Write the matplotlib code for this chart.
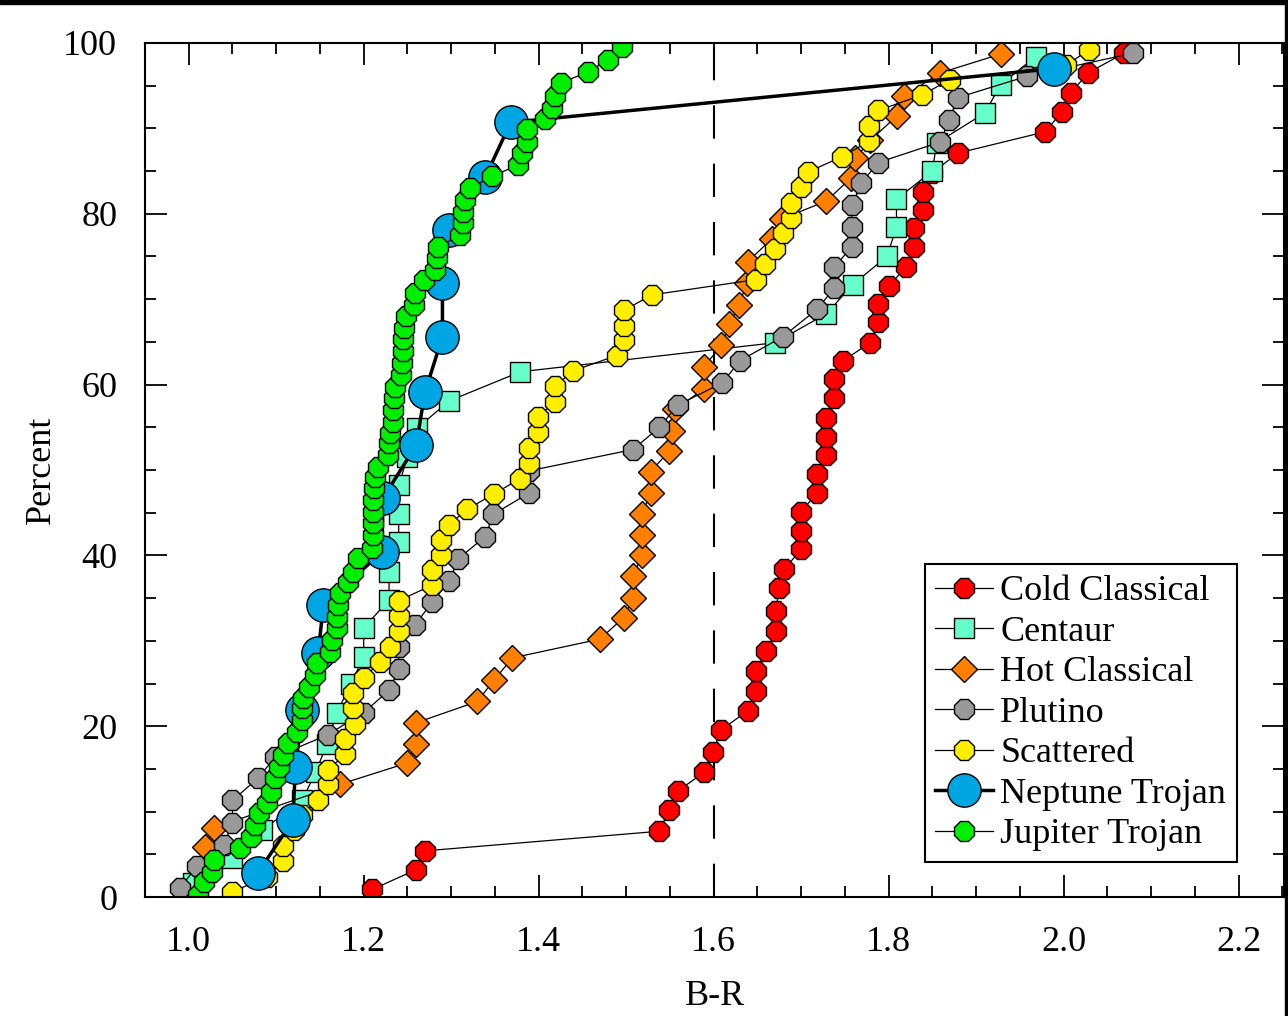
import numpy as np
import matplotlib.pyplot as plt
from matplotlib.patches import Rectangle

plt.rcParams['font.family'] = ['Liberation Serif', 'DejaVu Serif']

# Cold Classical
cc_x = [1.210, 1.260, 1.270, 1.538, 1.549, 1.559, 1.589, 1.599, 1.609, 1.639,
        1.649, 1.649, 1.660, 1.671, 1.671, 1.675, 1.681, 1.700, 1.700, 1.700,
        1.718, 1.718, 1.728, 1.728, 1.728, 1.738, 1.738, 1.748, 1.779, 1.788,
        1.788, 1.800, 1.820, 1.829, 1.829, 1.839, 1.839, 1.850, 1.879, 1.979,
        1.998, 2.008, 2.028, 2.069]
cc_y = [0.9, 3.2, 5.4, 7.7, 10.2, 12.4, 14.6, 17.0, 19.6, 21.8,
        24.1, 26.5, 28.8, 31.1, 33.5, 36.2, 38.4, 40.7, 42.9, 45.1,
        47.3, 49.5, 51.8, 53.9, 56.1, 58.4, 60.7, 62.8, 64.9, 67.3,
        69.4, 71.5, 73.8, 76.1, 78.3, 80.4, 82.6, 84.8, 87.1, 89.6,
        91.9, 94.1, 96.5, 98.8]

# Centaur
ce_x = [1.005, 1.050, 1.084, 1.130, 1.145, 1.158, 1.169, 1.185, 1.200, 1.200,
        1.229, 1.229, 1.240, 1.240, 1.240, 1.250, 1.261, 1.298, 1.379, 1.670,
        1.729, 1.759, 1.798, 1.809, 1.809, 1.850, 1.855, 1.910, 1.928, 1.968]
ce_y = [1.6, 4.6, 7.8, 11.4, 14.6, 17.9, 21.5, 24.9, 28.1, 31.5,
        34.8, 38.1, 41.6, 44.8, 48.2, 51.5, 54.9, 58.1, 61.5, 64.9,
        68.3, 71.7, 75.0, 78.4, 81.7, 85.0, 88.3, 91.8, 95.1, 98.4]

# Hot Classical
hc_x = [1.019, 1.029, 1.173, 1.250, 1.260, 1.260, 1.330, 1.349, 1.370, 1.470,
        1.497, 1.508, 1.508, 1.518, 1.518, 1.518, 1.528, 1.528, 1.549, 1.552,
        1.556, 1.589, 1.589, 1.609, 1.618, 1.629, 1.638, 1.639, 1.667, 1.678,
        1.729, 1.757, 1.762, 1.779, 1.810, 1.818, 1.859, 1.928]
hc_y = [5.8, 8.1, 13.2, 15.7, 17.9, 20.4, 22.9, 25.4, 28.0, 30.2,
        32.7, 35.0, 37.6, 40.0, 42.4, 44.8, 47.3, 49.8, 52.2, 54.6,
        57.1, 59.5, 62.1, 64.6, 67.1, 69.3, 71.9, 74.4, 77.1, 79.4,
        81.5, 84.2, 86.5, 88.6, 91.5, 93.8, 96.5, 98.7]

# Plutino
pl_x = [0.990, 1.009, 1.040, 1.050, 1.050, 1.079, 1.099, 1.159, 1.200, 1.229,
        1.240, 1.240, 1.259, 1.278, 1.298, 1.308, 1.339, 1.348, 1.389, 1.389,
        1.508, 1.538, 1.559, 1.610, 1.630, 1.679, 1.718, 1.738, 1.738, 1.758,
        1.758, 1.758, 1.769, 1.788, 1.859, 1.869, 1.879, 1.958, 2.079]
pl_y = [1.0, 3.6, 6.1, 8.7, 11.3, 13.9, 16.4, 19.0, 21.6, 24.2,
        26.7, 29.3, 31.9, 34.5, 37.0, 39.6, 42.2, 44.8, 47.3, 49.9,
        52.4, 55.0, 57.6, 60.2, 62.8, 65.6, 68.8, 71.3, 73.8, 76.1,
        78.5, 81.0, 83.6, 86.0, 88.4, 91.0, 93.6, 96.1, 98.8]

# Scattered
sc_x = [1.050, 1.090, 1.108, 1.108, 1.120, 1.130, 1.148, 1.159, 1.159, 1.179,
        1.179, 1.190, 1.188, 1.188, 1.200, 1.219, 1.230, 1.240, 1.240, 1.240,
        1.278, 1.278, 1.288, 1.288, 1.298, 1.318, 1.349, 1.379, 1.389, 1.389,
        1.399, 1.399, 1.419, 1.419, 1.439, 1.489, 1.498, 1.498, 1.498, 1.529,
        1.649, 1.659, 1.670, 1.679, 1.689, 1.689, 1.700, 1.708, 1.747, 1.778,
        1.778, 1.788, 1.838, 1.870, 2.003, 2.029]
sc_y = [0.6, 2.4, 4.2, 6.0, 7.8, 9.6, 11.4, 13.2, 14.9, 16.7,
        18.5, 20.3, 22.1, 23.9, 25.7, 27.5, 29.3, 31.1, 32.9, 34.7,
        36.5, 38.3, 40.0, 41.8, 43.6, 45.4, 47.2, 49.0, 50.8, 52.6,
        54.4, 56.2, 58.0, 59.8, 61.6, 63.4, 65.2, 66.9, 68.7, 70.5,
        72.3, 74.1, 75.9, 77.7, 79.5, 81.3, 83.1, 84.9, 86.7, 88.5,
        90.3, 92.1, 93.9, 95.7, 97.4, 99.2]

# Neptune Trojan
nt_x = [1.079, 1.119, 1.122, 1.130, 1.148, 1.154, 1.221, 1.222, 1.260, 1.270,
        1.290, 1.290, 1.297, 1.339, 1.368, 1.989]
nt_y = [2.8, 9.0, 15.2, 21.9, 28.6, 34.2, 40.4, 46.7, 52.9, 59.1,
        65.6, 71.9, 78.1, 84.3, 90.7, 97.0]

# Jupiter Trojan
jt_x = [1.011, 1.017, 1.027, 1.029, 1.059, 1.071, 1.076, 1.080, 1.090, 1.094,
        1.099, 1.103, 1.108, 1.113, 1.124, 1.130, 1.130, 1.131, 1.137, 1.144,
        1.147, 1.162, 1.164, 1.170, 1.170, 1.171, 1.173, 1.182, 1.188, 1.194,
        1.209, 1.211, 1.211, 1.211, 1.211, 1.212, 1.213, 1.216, 1.228, 1.229,
        1.230, 1.233, 1.234, 1.235, 1.236, 1.243, 1.244, 1.245, 1.245, 1.246,
        1.248, 1.258, 1.259, 1.269, 1.282, 1.284, 1.285, 1.310, 1.313, 1.314,
        1.316, 1.322, 1.347, 1.376, 1.381, 1.387, 1.387, 1.407, 1.415, 1.419,
        1.425, 1.456, 1.479, 1.495]
jt_y = [0.2, 1.8, 2.9, 4.3, 5.7, 7.0, 8.4, 9.8, 11.0, 12.3,
        13.9, 15.2, 16.6, 18.0, 19.3, 20.7, 22.1, 23.3, 24.6, 26.0,
        27.4, 28.7, 30.1, 31.5, 32.8, 34.2, 35.6, 36.9, 38.1, 39.7,
        40.9, 42.4, 43.8, 45.1, 46.5, 47.9, 49.2, 50.4, 51.8, 53.2,
        54.3, 55.6, 57.0, 58.4, 59.7, 61.1, 62.5, 63.9, 65.3, 66.6,
        68.0, 69.3, 70.7, 72.2, 73.4, 74.8, 76.1, 77.5, 78.9, 80.2,
        81.6, 83.0, 84.4, 85.7, 87.1, 88.4, 89.9, 91.1, 92.4, 93.8,
        95.3, 96.6, 98.0, 99.5]

fig = plt.figure(figsize=(12.88, 10.16), dpi=100)
ax = fig.add_axes([145/1288, 119/1016, 1139/1288, 854/1016])

ax.axvline(1.6, color='black', lw=1.5, linestyle=(0, (16, 12)), zorder=1)

thin = dict(color='black', lw=0.9, mec='black', mew=1.0)
ax.plot(cc_x, cc_y, marker='8', ms=15, mfc='#ff0000', label='Cold Classical', **thin)
ax.plot(ce_x, ce_y, marker='s', ms=14, mfc='#66ffcc', label='Centaur', **thin)
ax.plot(hc_x, hc_y, marker='D', ms=13, mfc='#ff8000', label='Hot Classical', **thin)
ax.plot(pl_x, pl_y, marker='8', ms=15, mfc='#999999', label='Plutino', **thin)
ax.plot(sc_x, sc_y, marker='8', ms=15, mfc='#ffee00', label='Scattered', **thin)
ax.plot(nt_x, nt_y, marker='o', ms=24, mfc='#00a5e3', color='black', lw=2.5,
        mec='black', mew=1.0, label='Neptune Trojan')
ax.plot(jt_x, jt_y, marker='8', ms=15, mfc='#00ee00', label='Jupiter Trojan', **thin)

ax.set_xlim(0.951, 2.252)
ax.set_ylim(0, 100)
ax.set_xticks(np.arange(1.0, 2.21, 0.2))
ax.set_xticks(np.arange(0.95, 2.26, 0.05), minor=True)
ax.set_yticks(np.arange(0, 101, 20))
ax.set_yticks(np.arange(0, 101, 5), minor=True)
ax.set_xticklabels(['1.0', '1.2', '1.4', '1.6', '1.8', '2.0', '2.2'])
ax.tick_params(which='both', direction='in', top=True, right=True, width=1.3,
               labelsize=26)
ax.tick_params(which='major', length=16)
ax.tick_params(which='minor', length=8)
ax.tick_params(axis='x', pad=21)
ax.tick_params(axis='y', pad=20)
for s in ax.spines.values():
    s.set_linewidth(1.5)

ax.set_xlabel('B-R', fontsize=26, labelpad=15)
ax.set_ylabel('Percent', fontsize=26, labelpad=4)

leg = ax.legend(loc='lower right', bbox_to_anchor=(0.9587, 0.041), fontsize=26,
                fancybox=False, edgecolor='black', framealpha=1,
                handlelength=1.6, handletextpad=0.2, labelspacing=0.2,
                borderpad=0.3, borderaxespad=0)
leg.get_frame().set_linewidth(1.5)

# black strips at top and right of the image
fig.patches.append(Rectangle((0, 1 - 4/1016), 1, 4/1016, transform=fig.transFigure,
                             color='black', zorder=10))
fig.patches.append(Rectangle((1 - 3/1288, 0), 3/1288, 1, transform=fig.transFigure,
                             color='black', zorder=10))

fig.savefig('out.png', dpi=100)
